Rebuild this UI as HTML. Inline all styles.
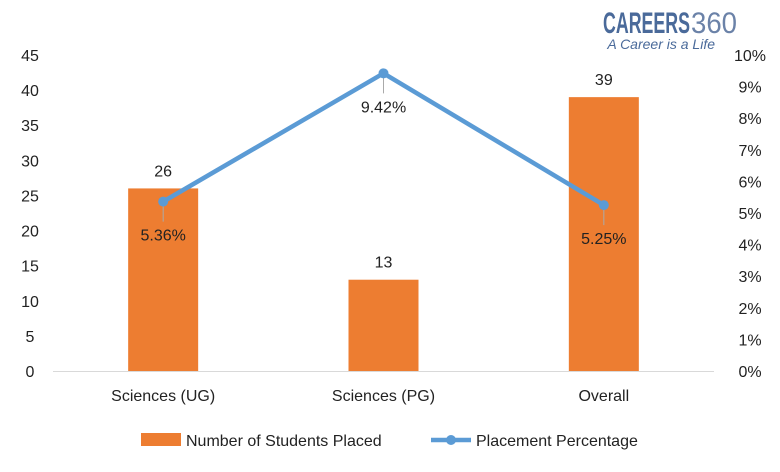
<!DOCTYPE html>
<html><head><meta charset="utf-8"><style>
body{margin:0;background:#fff;}
svg{display:block;font-family:"Liberation Sans",sans-serif;}
</style></head><body>
<svg id="c" width="780" height="472">
<g>
<text x="603" y="33" font-size="30" font-weight="bold" fill="#4a6a9a" textLength="87" lengthAdjust="spacingAndGlyphs">CAREERS</text>
<text x="691" y="33" font-size="30" fill="#6b82a8" textLength="46" lengthAdjust="spacingAndGlyphs">360</text>
<text x="715" y="49" text-anchor="end" font-size="14" font-style="italic" fill="#4a6a9a">A Career is a Life</text>
</g>
</svg>
<script>
const categories=["Sciences (UG)","Sciences (PG)","Overall"];
const students=[26,13,39];
const percents=[5.36,9.42,5.25];
const leftTicks=[0,5,10,15,20,25,30,35,40,45];
const rightTicks=[0,1,2,3,4,5,6,7,8,9,10];
const NS="http://www.w3.org/2000/svg";
const svg=document.getElementById('c');
const y0=371,yTop=55,x0=53,x1=714;
const yL=v=>y0-(v/45)*(y0-yTop);
const yR=v=>y0-(v/10)*(y0-yTop);
const band=(x1-x0)/categories.length;
const xC=i=>x0+band*(i+0.5);
function mk(t,a,txt){const e=document.createElementNS(NS,t);for(const k in a)e.setAttribute(k,a[k]);if(txt!==undefined)e.textContent=txt;svg.appendChild(e);return e;}
leftTicks.forEach(v=>{const e=mk('text',{x:30,y:yL(v)+6,'text-anchor':'middle','font-size':16,fill:'#222'},v);

});
rightTicks.forEach(v=>{const e=mk('text',{x:750,y:yR(v)+6,'text-anchor':'middle','font-size':16,fill:'#222'},v+'%');

});
const ax=mk('line',{x1:x0,x2:x1,y1:y0+0.5,y2:y0+0.5,stroke:'#d9d9d9'});


students.forEach((v,i)=>{const b=mk('rect',{x:xC(i)-35,y:yL(v),width:70,height:y0-yL(v),fill:'#ed7d31'});


const l=mk('text',{x:xC(i),y:yL(v)-12,'text-anchor':'middle','font-size':16,fill:'#222'},v);


const c=mk('text',{x:xC(i),y:y0+30,'text-anchor':'middle','font-size':16,fill:'#222'},categories[i]);

});
const pl=mk('polyline',{points:percents.map((p,i)=>xC(i)+','+yR(p)).join(' '),fill:'none',stroke:'#5b9bd5','stroke-width':4.5,'stroke-linejoin':'round'});


percents.forEach((p,i)=>{const ld=mk('line',{x1:xC(i),x2:xC(i),y1:yR(p)+4,y2:yR(p)+20,stroke:'#aaa'});


const d=mk('circle',{cx:xC(i),cy:yR(p),r:5,fill:'#5b9bd5'});


const t=mk('text',{x:xC(i),y:yR(p)+39,'text-anchor':'middle','font-size':16,fill:'#222'},p.toFixed(2)+'%');

});
const lg1=mk('rect',{x:141,y:433,width:40,height:13,fill:'#ed7d31'});


const lt1=mk('text',{x:186,y:446,'font-size':16,fill:'#222'},'Number of Students Placed');


const lg2=mk('line',{x1:431,x2:471,y1:440,y2:440,stroke:'#5b9bd5','stroke-width':4.5});


const lg3=mk('circle',{cx:451,cy:440,r:5,fill:'#5b9bd5'});


const lt2=mk('text',{x:476,y:446,'font-size':16,fill:'#222'},'Placement Percentage');


</script>
</body></html>
